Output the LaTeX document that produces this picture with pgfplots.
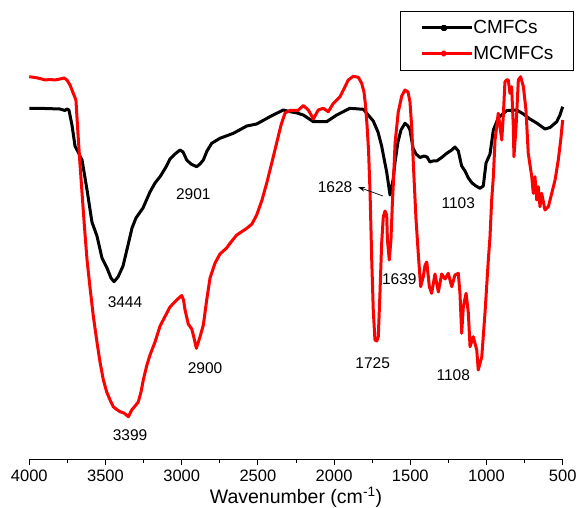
\documentclass[border=0pt]{standalone}
\usepackage{fontspec}
\setmainfont{Liberation Sans}
\usepackage{pgfplots}
\pgfplotsset{compat=1.18}
\usetikzlibrary{arrows.meta}
\begin{document}
\begin{tikzpicture}
\useasboundingbox (-29.3bp,-49bp) rectangle (548.7bp,459bp);
\begin{axis}[
  at={(0,0)}, anchor=south west,
  scale only axis, width=533.4bp, height=448bp,
  x dir=reverse, xmin=500, xmax=4000, ymin=0, ymax=448,
  axis x line*=bottom, axis y line=none,
  x axis line style={-, line width=0.9bp},
  xtick={500,1000,...,4000}, minor xtick={750,1250,...,3750},
  tick align=outside, major tick length=6bp, minor tick length=3.5bp,
  every tick/.style={line width=0.9bp, black},
  ytick=\empty,
  /pgf/number format/assume math mode=true,
  /pgf/number format/1000 sep={},
  xticklabel style={font=\fontsize{16.5bp}{18bp}\selectfont, inner sep=1bp, yshift=-4bp},
  xlabel={Wavenumber (cm\textsuperscript{-1})},
  xlabel style={font=\fontsize{19.5bp}{22bp}\selectfont, inner sep=0bp, yshift=-4bp},
  clip=false,
  legend style={at={(axis description cs:1.021,1)}, anchor=north east,
    draw=black, line width=0.8bp, font=\fontsize{19bp}{21bp}\selectfont,
    inner xsep=20bp, inner ysep=9bp, row sep=11bp,
    nodes={inner sep=0bp}},
  legend cell align=left,
]
\addplot[black, line width=3bp, line join=round,
  legend image code/.code={\draw[black, line width=0.8bp] (0bp,0bp) -- (44bp,0bp);
    \fill[black] (20.4bp,-1.6bp) rectangle (23.6bp,1.6bp);
    \path (0bp,0bp) -- (50bp,0bp);}]
coordinates {
(4000,350.7)(3897,350.5)(3799,350)(3766,348.5)(3753,350)(3740,349)(3720,334)(3700,313)
(3680,307)(3654,299)(3621,269)(3589,237)(3556,223)(3523,201)(3490,191)(3464,181)
(3444,177.3)(3418,182)(3385,193)(3352,214)(3326,231)(3300,241)(3254,251)(3208,267)
(3175,276)(3142,282.3)(3103,292)(3077,300)(3044,305)(3011,309)(2991,307)(2967,299)
(2939,295)(2902,292.3)(2880,295)(2858,299)(2834,308)(2803,315.7)(2749,320.7)(2661,325.7)
(2573,333)(2508,335)(2421,342.3)(2333,349)(2289,347.3)(2243,346)(2202,344)(2136,337.3)
(2049,337.3)(1983,344)(1896,350.7)(1808,349.7)(1743,338)(1712,327)(1688,313)(1673,301)
(1655,287)(1633,264)(1613,279)(1600,297)(1581,317)(1561,329)(1535,335.7)(1515,333)
(1502,329)(1482,311)(1463,305)(1436,301.5)(1410,303)(1390,302)(1371,297)(1351,298)
(1327,298)(1294,301.5)(1261,305.7)(1228,309)(1207,312)(1185,308)(1163,293)(1141,288)
(1119,281)(1095,276)(1069,273)(1043,270.7)(1021,273)(1003,296)(977,305)(955,329)
(923,341)(867,348.5)(802,349)(758,345)(715,340)(671,336)(616,330)(583,331.5)
(539,337.3)(518,344)(500,352.3)
};
\addlegendentry{CMFCs}
\addplot[red, line width=3bp, line join=round,
  legend image code/.code={\draw[red, line width=0.8bp] (0bp,0bp) -- (44bp,0bp);
    \fill[red] (22bp,0bp) circle (1.8bp);
    \path (0bp,0bp) -- (50bp,0bp);}]
coordinates {
(4000,382.3)(3963,381.5)(3930,380.5)(3897,379)(3864,379.5)(3831,379)(3799,380)(3772,381)
(3753,379)(3733,374)(3720,369)(3707,364)(3694,359)(3680,324)(3667,294)(3646,249)
(3635,226)(3621,199)(3602,172)(3580,143)(3558,119)(3536,97)(3514,79)(3492,67)
(3470,59)(3449,52.3)(3431,50)(3405,47.3)(3379,46)(3350,42.3)(3328,49)(3306,53)
(3285,57)(3267,67)(3252,79)(3230,93)(3208,104)(3175,117)(3142,133)(3110,142.3)
(3077,152)(3033,159)(3000,163.5)(2988,159)(2978,149)(2957,135)(2934,130)(2919,121)
(2904,110.7)(2880,122)(2858,134)(2836,159)(2814,181)(2781,196)(2749,205)(2705,211)
(2683,215.7)(2639,224)(2573,230.7)(2539,235)(2508,244)(2473,259)(2442,276)(2409,296)
(2377,316)(2348,334)(2322,346)(2289,348.5)(2237,348.5)(2202,353.5)(2169,349)(2136,340)
(2104,349)(2071,350.7)(2038,347.3)(2005,355.7)(1961,362.3)(1928,372.3)(1907,379)(1874,382.7)
(1841,381.7)(1819,375.7)(1804,367)(1794,354)(1784,334)(1774,309)(1764,266)(1753,199)
(1743,149)(1732,119)(1720,118)(1710,122.3)(1699,165.7)(1688,215.7)(1677,242.3)(1666,248)
(1655,244)(1650,219)(1638,199)(1627,219)(1618,254)(1610,279)(1600,315.7)(1579,347)
(1556,363)(1535,369)(1515,367)(1502,357)(1491,332.3)(1476,282.3)(1463,241)(1447,204)
(1432,172.3)(1415,182.3)(1403,194)(1392,197)(1375,172.3)(1360,165.7)(1338,185)(1316,167)
(1294,185)(1272,180)(1251,185.7)(1228,172.3)(1207,184)(1185,185.7)(1174,165.7)(1163,125.7)
(1152,152.3)(1134,165.7)(1119,145.7)(1108,112.3)(1087,122.3)(1064,109)(1054,89)(1031,102.3)
(1010,145.7)(988,199)(977,222.3)(966,259)(955,282.3)(944,319)(933,332.3)(923,345.7)
(911,332.3)(900,319)(890,342.3)(879,377)(869,379)(857,379)(846,365.7)(835,372.3)
(824,332.3)(820,302.3)(806,332.3)(791,379)(776,382.3)(758,372.3)(741,349)(726,305.7)
(703,282.3)(693,265.7)(682,282.3)(671,259)(660,272.3)(649,252.3)(638,265.7)(616,249)
(594,252.3)(572,265.7)(550,279)(529,299)(513,319)(500,339)
};
\addlegendentry{MCMFCs}
\begin{scope}[every node/.style={font=\fontsize{15.5bp}{17bp}\selectfont, inner sep=0bp}]
\node at (axis cs:3372,157.3) {3444};
\node at (axis cs:2924,264.7) {2901};
\node at (axis cs:3339,24) {3399};
\node at (axis cs:2847,91.3) {2900};
\node at (axis cs:1994,271.7) {1628};
\node at (axis cs:1747,95.7) {1725};
\node at (axis cs:1572,179.7) {1639};
\node at (axis cs:1185,256.3) {1103};
\node at (axis cs:1218,84) {1108};
\end{scope}
\draw[line width=0.7bp, -{Stealth[length=7bp,width=4.5bp]}] (axis cs:1679,263) -- (axis cs:1843,272);
\end{axis}
\end{tikzpicture}
\end{document}
